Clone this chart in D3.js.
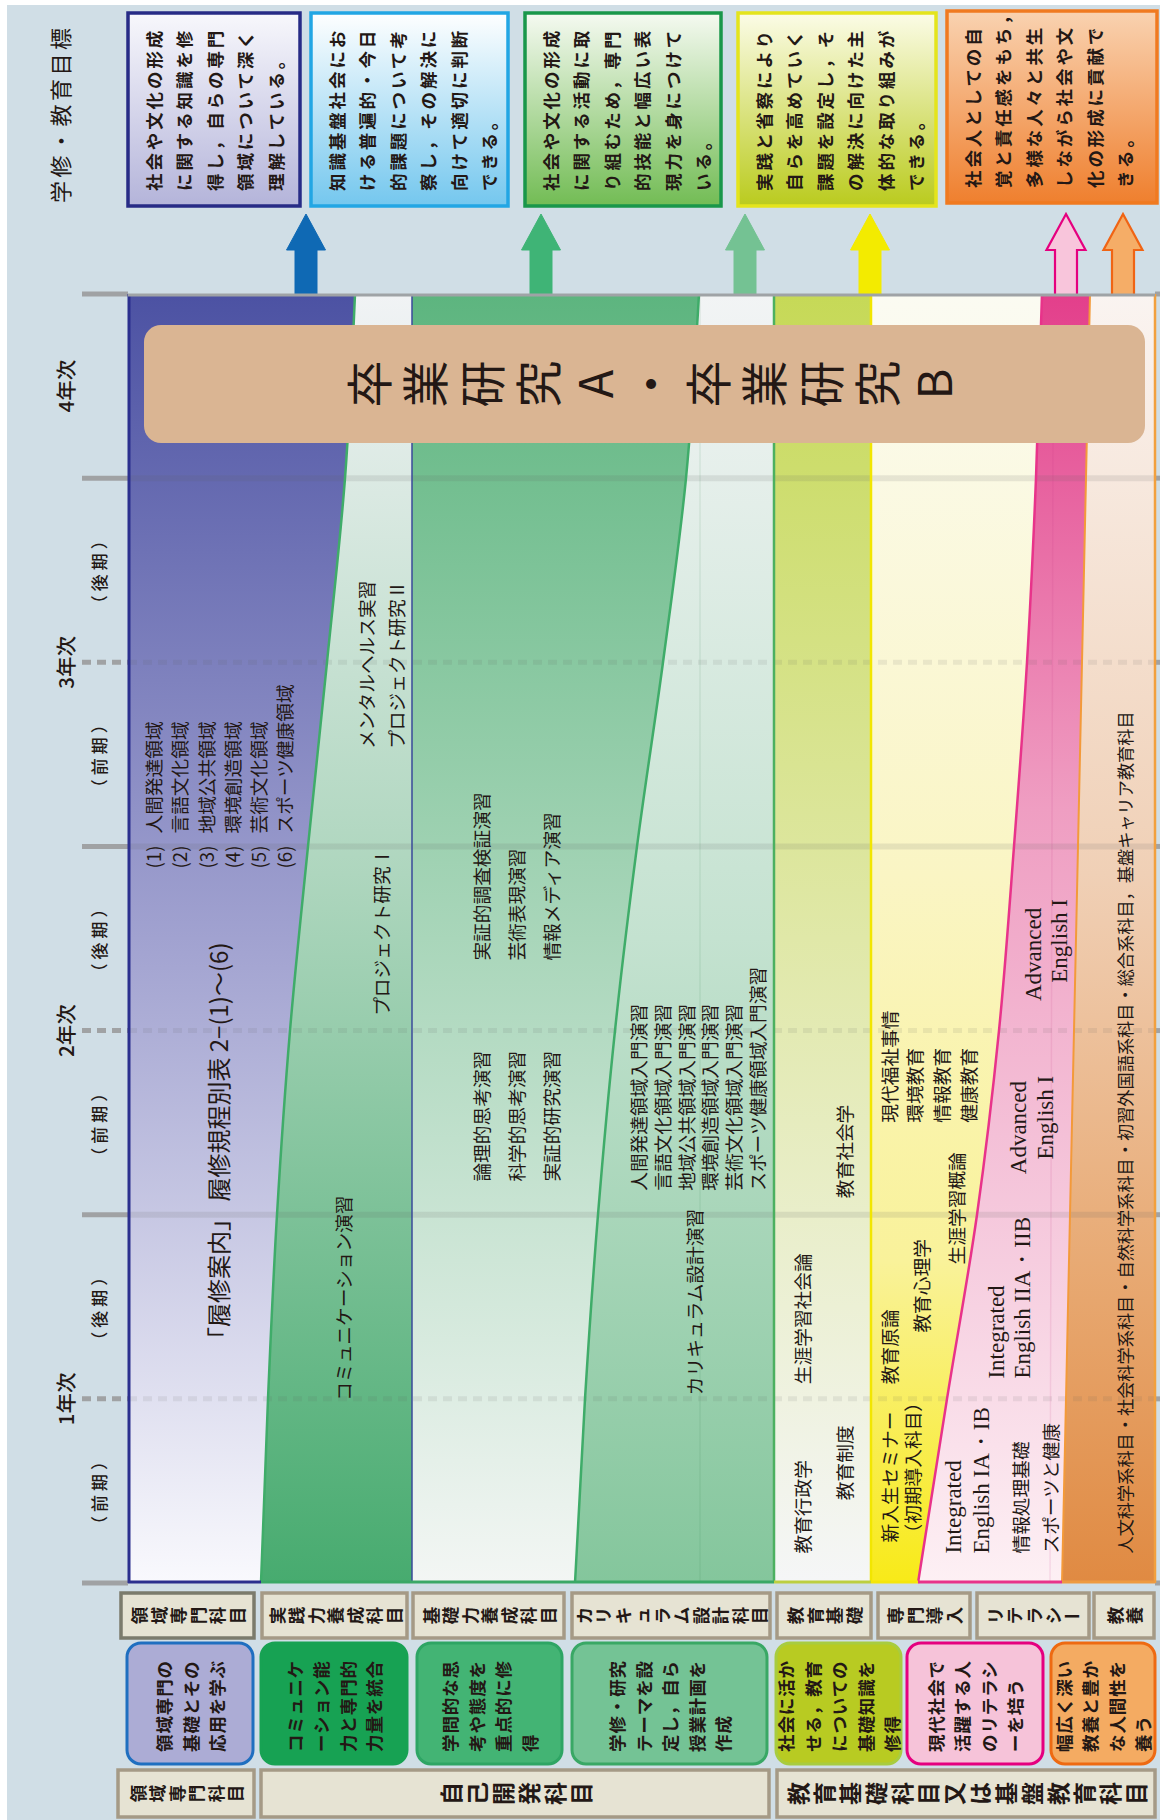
<!DOCTYPE html>
<html><head><meta charset="utf-8">
<script src="https://cdn.jsdelivr.net/npm/d3@7/dist/d3.min.js"></script>
<style>html,body{margin:0;padding:0;background:#fff}svg{display:block}</style>
</head><body>
<svg id="chart" width="1160" height="1820"></svg>
<script>
// ================= DATA =================
const goalTitle = "学修・教育目標";
const yearLabels = ["1年次", "2年次", "3年次", "4年次"];
const yearCenters = [1, 3, 5, 6.5];               // in semesters
const termLabels = ["（前期）", "（後期）", "（前期）", "（後期）", "（前期）", "（後期）"];
const termCenters = [0.5, 1.5, 2.5, 3.5, 4.5, 5.5];
const solidBounds = [0, 2, 4, 6, 7];
const dashedBounds = [1, 3, 5];

const goalTexts = [
  ["社会や文化の形成", "に関する知識を修", "得し，自らの専門", "領域について深く", "理解している。"],
  ["知識基盤社会にお", "ける普遍的・今日", "的課題について考", "察し，その解決に", "向けて適切に判断", "できる。"],
  ["社会や文化の形成", "に関する活動に取", "り組むため，専門", "的技能と幅広い表", "現力を身につけて", "いる。"],
  ["実践と省察により", "自らを高めていく", "課題を設定し，そ", "の解決に向けた主", "体的な取り組みが", "できる。"],
  ["社会人としての自", "覚と責任感をもち，", "多様な人々と共生", "しながら社会や文", "化の形成に貢献で", "きる。"]
];

const categories = ["領域専門科目", "実践力養成科目", "基礎力養成科目", "カリキュラム設計科目", "教育基礎", "専門導入", "リテラシー", "教養"];
const aimTexts = [
  ["領域専門の", "基礎とその", "応用を学ぶ"],
  ["コミュニケ", "ーション能", "力と専門的", "力量を統合"],
  ["学問的な思", "考や態度を", "重点的に修", "得"],
  ["学修・研究", "テーマを設", "定し，自ら", "授業計画を", "作成"],
  ["社会に活か", "せる，教育", "についての", "基礎知識を", "修得"],
  ["現代社会で", "活躍する人", "のリテラシ", "ーを培う"],
  ["幅広く深い", "教養と豊か", "な人間性を", "養う"]
];
const groups = ["領域専門科目", "自己開発科目", "教育基礎科目又は基盤教育科目"];
const bannerText = "卒業研究A・卒業研究B";

// band edges: x at semesters 0..7
const semSteps = [0, 1, 2, 3, 4, 5, 6, 7];
const edgeA = [261, 268, 277, 290, 308, 327, 345, 355];
const edgeB = [575, 585, 598, 615, 637, 663, 686, 699];
const edgeC = [918, 947, 977, 999, 1014, 1027, 1036, 1042];
const edgeD = [1062, 1066, 1070, 1074, 1078, 1082, 1086, 1090];

const domainNums = ["(1)", "(2)", "(3)", "(4)", "(5)", "(6)"];
const domains = ["人間発達領域", "言語文化領域", "地域公共領域", "環境創造領域", "芸術文化領域", "スポーツ健康領域"];
const domainStart = 3.88;

// [text, category index, lane, start semester]
const courses = [
  ["「履修案内」 履修規程別表 2−(1)〜(6)", 0, 6, 1.26],
  ["コミュニケーション演習", 1, 0, 0.99],
  ["プロジェクト研究Ⅰ", 1, 2, 3.08],
  ["メンタルヘルス実習", 1, 1, 4.53],
  ["プロジェクト研究Ⅱ", 1, 3, 4.53],
  ["論理的思考演習", 2, 0, 2.18],
  ["科学的思考演習", 2, 1, 2.18],
  ["実証的研究演習", 2, 2, 2.18],
  ["実証的調査検証演習", 2, 0, 3.38],
  ["芸術表現演習", 2, 1, 3.38],
  ["情報メディア演習", 2, 2, 3.38],
  ["カリキュラム設計演習", 3, 6, 1.02],
  ["人間発達領域入門演習", 3, 0, 2.13],
  ["言語文化領域入門演習", 3, 1, 2.13],
  ["地域公共領域入門演習", 3, 2, 2.13],
  ["環境創造領域入門演習", 3, 3, 2.13],
  ["芸術文化領域入門演習", 3, 4, 2.13],
  ["スポーツ健康領域入門演習", 3, 5, 2.13],
  ["教育行政学", 4, 0, 0.16],
  ["教育制度", 4, 1, 0.45],
  ["生涯学習社会論", 4, 0, 1.08],
  ["教育社会学", 4, 1, 2.09],
  ["新入生セミナー", 5, 0, 0.22],
  ["（初期導入科目）", 5, 1, 0.22],
  ["教育原論", 5, 0, 1.08],
  ["教育心理学", 5, 2, 1.36],
  ["生涯学習概論", 5, 3, 1.73],
  ["現代福祉事情", 5, 0, 2.50],
  ["環境教育", 5, 4, 2.50],
  ["情報教育", 5, 5, 2.50],
  ["健康教育", 5, 6, 2.50],
  ["情報処理基礎", 6, 2, 0.16],
  ["スポーツと健康", 6, 3, 0.16],
  ["人文科学系科目・社会科学系科目・自然科学系科目・初習外国語系科目・総合系科目，基盤キャリア教育科目", 7, 0, 0.16]
];
const englishCourses = [
  ["Integrated", 6, 0, 0.16], ["English IA・IB", 6, 1, 0.16],
  ["Integrated", 6, 4, 1.11], ["English IIA・IIB", 6, 5, 1.11],
  ["Advanced", 6, 6, 2.22], ["English I", 6, 7, 2.30],
  ["Advanced", 6, 8, 3.16], ["English I", 6, 9, 3.26]
];

// ================= LAYOUT =================
const W = 1160, H = 1820;
const JP = "'Noto Sans CJK JP','Noto Sans',sans-serif";
const SERIF = "'Liberation Serif','DejaVu Serif',serif";
const INK = "#231815";
const svg = d3.select("#chart");
const defs = svg.append("defs");

const sem = d3.scaleLinear().domain([0, 7]).range([1583, 294]);
const laneX = d3.scaleOrdinal().domain(d3.range(8)).range([
  [152, 178, 205, 231, 257, 283, 217],
  [342, 365, 380, 395],
  [480, 515, 550],
  [637, 661, 685, 708, 732, 756, 693],
  [801, 843],
  [888, 911, 920, 955, 913, 940, 967],
  [953, 981, 1019, 1049, 996, 1022, 1018, 1045, 1033, 1059],
  [1124]
]);
const goalBoxX = d3.scaleOrdinal().domain(d3.range(5)).range([[128, 300], [311, 508], [525, 721], [738, 936], [947, 1157]]);
const headBoxX = d3.scaleOrdinal().domain(d3.range(8)).range([[121, 254], [262, 407], [413, 564], [572, 770], [777, 871], [878, 970], [977, 1089], [1094, 1154]]);
const aimBoxX = d3.scaleOrdinal().domain(d3.range(7)).range([[127, 253], [261, 407], [417, 562], [572, 767], [776, 901], [907, 1043], [1051, 1155]]);
const groupBoxX = d3.scaleOrdinal().domain(d3.range(3)).range([[118, 254], [261, 769], [777, 1155]]);

function linGrad(id, stops, x1, y1, x2, y2) {
  const g = defs.append("linearGradient").attr("id", id).attr("gradientUnits", "userSpaceOnUse")
    .attr("x1", x1).attr("y1", y1).attr("x2", x2).attr("y2", y2);
  stops.forEach(s => g.append("stop").attr("offset", s[0]).attr("stop-color", s[1]));
  return `url(#${id})`;
}
function vText(g, str, x, y, size, opt = {}) {
  return g.append("text")
    .attr("transform", `translate(${x},${y}) rotate(-90)`)
    .attr("text-anchor", opt.anchor || "start")
    .attr("dominant-baseline", "central")
    .attr("font-family", opt.family || JP)
    .attr("font-size", size)
    .attr("font-weight", opt.weight || "normal")
    .attr("letter-spacing", opt.ls || 0)
    .attr("fill", opt.fill || INK)
    .text(str);
}
function charRow(g, str, cx, cy, pitch, size, weight) {
  const chars = Array.from(str);
  const n = chars.length;
  chars.forEach((ch, i) => {
    const x = cx + (i - (n - 1) / 2) * pitch;
    g.append("text")
      .attr("transform", `translate(${x},${cy})` + (ch === "ー" ? "" : " rotate(-90)"))
      .attr("text-anchor", "middle").attr("dominant-baseline", "central")
      .attr("font-family", JP).attr("font-size", size).attr("font-weight", weight || "normal")
      .attr("fill", INK).text(ch);
  });
}

// background
svg.append("rect").attr("width", W).attr("height", H).attr("fill", "#ffffff");
svg.append("rect").attr("x", 7).attr("y", 5).attr("width", W - 7).attr("height", H - 5).attr("fill", "#d0dee6");

// ---------- top title ----------
vText(svg, goalTitle, 59, 203, 22, { ls: 3.5 });

// ---------- goal boxes ----------
const goalStyles = [
  ["#272b86", "#f8f8fc", "#b4b4da"],
  ["#22a6e4", "#ffffff", "#74c7ee"],
  ["#19974a", "#f6faf2", "#72bc54"],
  ["#e4e41c", "#fcfce8", "#bacb1e"],
  ["#f07a20", "#f9d2b0", "#ef7e2c"]
];
const gGoals = svg.append("g");
goalTexts.forEach((lines, i) => {
  const [x0, x1] = goalBoxX(i);
  const st = goalStyles[i];
  const fill = linGrad("gg" + i, [[0, st[1]], [1, st[2]]], 0, 12, 0, 206);
  gGoals.append("rect").attr("x", x0).attr("y", i === 4 ? 11 : 13).attr("width", x1 - x0)
    .attr("height", i === 4 ? 192 : 193).attr("fill", fill).attr("stroke", st[0]).attr("stroke-width", 3.5);
  lines.forEach((ln, j) => vText(gGoals, ln, x0 + 25 + j * 30.5, i === 4 ? 188 : 191, 17.5, { weight: "bold", ls: 2.9 }));
});

// ---------- grid lines ----------
const gGrid = svg.append("g");
solidBounds.forEach(s => {
  gGrid.append("line").attr("x1", 82).attr("x2", 128).attr("y1", sem(s)).attr("y2", sem(s))
    .attr("stroke", "#a0a2a4").attr("stroke-width", 5);
  gGrid.append("line").attr("x1", 1155).attr("x2", W).attr("y1", sem(s)).attr("y2", sem(s))
    .attr("stroke", "#a0a2a4").attr("stroke-width", 5);
});
dashedBounds.forEach(s => {
  gGrid.append("line").attr("x1", 82).attr("x2", 128).attr("y1", sem(s)).attr("y2", sem(s))
    .attr("stroke", "#a0a2a4").attr("stroke-width", 5).attr("stroke-dasharray", "9,6");
  gGrid.append("line").attr("x1", 1155).attr("x2", W).attr("y1", sem(s)).attr("y2", sem(s))
    .attr("stroke", "#a0a2a4").attr("stroke-width", 5).attr("stroke-dasharray", "9,6");
});
// year and term labels
yearLabels.forEach((t, i) => vText(svg, t, 65, sem(yearCenters[i]), 20.5, { anchor: "middle", weight: 500 }));
termLabels.forEach((t, i) => vText(svg, t, 98, sem(termCenters[i]), 17, { anchor: "middle", weight: 500, ls: 4 }));

// ---------- arrows ----------
const arrowCenters = [306, 541, 745, 870, 1066, 1123];
const arrowStyles = [["#0f69b4", "#0f69b4"], ["#3fb476", "#3fb476"], ["#74c293", "#74c293"], ["#f3eb00", "#f3eb00"], ["#f8c5db", "#e5007f"], ["#f5ad67", "#f06414"]];
const gArrows = svg.append("g");
arrowCenters.forEach((cx, i) => {
  const p = d3.path();
  p.moveTo(cx, 214); p.lineTo(cx + 19.5, 250); p.lineTo(cx + 11, 250); p.lineTo(cx + 11, 322);
  p.lineTo(cx - 11, 322); p.lineTo(cx - 11, 250); p.lineTo(cx - 19.5, 250); p.closePath();
  gArrows.append("path").attr("d", p.toString()).attr("fill", arrowStyles[i][0])
    .attr("stroke", arrowStyles[i][1]).attr("stroke-width", i >= 4 ? 2.2 : 1);
});

// ---------- column bands ----------
const edgeOf = (arr) => (s) => arr[s];
const constant = (v) => () => v;
const bands = [
  { l: constant(128), r: edgeOf(edgeA), stops: [[0, "#4c52a3"], [0.5, "#a1a2d0"], [1, "#f9f9fd"]] },
  { l: edgeOf(edgeA), r: constant(412), stops: [[0, "#f1f3f5"], [0.45, "#aed6be"], [1, "#47ab6f"]] },
  { l: constant(412), r: edgeOf(edgeB), stops: [[0, "#5db57f"], [0.5, "#a9d6ba"], [1, "#f3f6f4"]] },
  { l: edgeOf(edgeB), r: constant(774), stops: [[0, "#f2f4f5"], [0.5, "#c4e2d0"], [1, "#84c69c"]] },
  { l: constant(774), r: constant(871), stops: [[0, "#c6d957"], [0.5, "#e0e8a8"], [1, "#f5f6f7"]] },
  { l: constant(871), r: edgeOf(edgeC), stops: [[0, "#fbfbf2"], [0.45, "#faf5c4"], [0.75, "#f9f29a"], [1, "#f8ea18"]] },
  { l: edgeOf(edgeC), r: edgeOf(edgeD), stops: [[0, "#e33f8b"], [0.4, "#ef9ec2"], [0.75, "#f6cddf"], [1, "#fdf0f4"]] },
  { l: edgeOf(edgeD), r: constant(1155), stops: [[0, "#faf4f1"], [0.45, "#f0d0b6"], [0.75, "#e8aa74"], [1, "#e08a42"]] }
];
const gBands = svg.append("g");
bands.forEach((b, i) => {
  const area = d3.area().y(s => sem(s)).x0(s => b.l(s)).x1(s => b.r(s)).curve(d3.curveMonotoneY);
  gBands.append("path").attr("d", area(semSteps))
    .attr("fill", linGrad("bg" + i, b.stops, 0, 294, 0, 1583));
});
// in-band grid overlays
solidBounds.slice(1, 4).forEach(s => gBands.append("line").attr("x1", 128).attr("x2", 1155)
  .attr("y1", sem(s)).attr("y2", sem(s)).attr("stroke", "rgba(90,90,90,0.13)").attr("stroke-width", 6));
dashedBounds.forEach(s => gBands.append("line").attr("x1", 128).attr("x2", 1155)
  .attr("y1", sem(s)).attr("y2", sem(s)).attr("stroke", "rgba(90,90,90,0.10)").attr("stroke-width", 5)
  .attr("stroke-dasharray", "9,6"));
// faint vertical lines
gBands.append("line").attr("x1", 700).attr("x2", 700).attr("y1", 294).attr("y2", 1583).attr("stroke", "rgba(40,120,70,0.10)").attr("stroke-width", 1.5);
gBands.append("line").attr("x1", 1053).attr("x2", 1050).attr("y1", 443).attr("y2", 1583).attr("stroke", "rgba(200,60,130,0.12)").attr("stroke-width", 1.5);
// edge strokes
const edgeLine = (arr) => d3.line().y(s => sem(s)).x(s => arr[s]).curve(d3.curveMonotoneY)(semSteps);
gBands.append("path").attr("d", edgeLine(edgeA)).attr("fill", "none").attr("stroke", "#3fac69").attr("stroke-width", 2.5);
gBands.append("path").attr("d", edgeLine(edgeB)).attr("fill", "none").attr("stroke", "#3fac69").attr("stroke-width", 2.5);
gBands.append("path").attr("d", edgeLine(edgeC)).attr("fill", "none").attr("stroke", "#e8338a").attr("stroke-width", 2.5);
gBands.append("path").attr("d", edgeLine(edgeD)).attr("fill", "none").attr("stroke", "#f39a3a").attr("stroke-width", 2);
const vline = (x, c, w) => gBands.append("line").attr("x1", x).attr("x2", x).attr("y1", 294).attr("y2", 1583).attr("stroke", c).attr("stroke-width", w);
vline(129, "#2b2f8e", 3);
vline(412, "#3a4a9a", 1.5);
vline(774, "#4cb060", 2.5);
vline(871, "#f2e600", 2.5);
vline(1155, "#f2a03e", 2.5);
// top & bottom borders
gBands.append("line").attr("x1", 128).attr("x2", 1155).attr("y1", 295).attr("y2", 295).attr("stroke", "#9fa3a6").attr("stroke-width", 3);
const bottomSegs = [[128, edgeA[0], "#2b2f8e"], [edgeA[0], 774, "#3aa866"], [774, 871, "#bccf40"], [871, edgeC[0], "#f5e60a"], [edgeC[0], edgeD[0], "#e8338a"], [edgeD[0], 1155, "#ee9a40"]];
bottomSegs.forEach(sg => gBands.append("line").attr("x1", sg[0]).attr("x2", sg[1]).attr("y1", 1582).attr("y2", 1582).attr("stroke", sg[2]).attr("stroke-width", 3));

// ---------- banner ----------
svg.append("rect").attr("x", 144).attr("y", 325).attr("width", 1001).attr("height", 118).attr("rx", 17)
  .attr("fill", "#dab593");
charRow(svg, bannerText, 648.5, 384, 56.5, 47, "normal");

// ---------- course texts ----------
const gCourses = svg.append("g");
domains.forEach((d, i) => {
  const t = gCourses.append("text")
    .attr("transform", `translate(${laneX(0)[i]},${sem(domainStart)}) rotate(-90)`)
    .attr("dominant-baseline", "central").attr("font-family", JP).attr("font-size", 18.7).attr("fill", INK);
  t.append("tspan").text(domainNums[i]);
  t.append("tspan").attr("dx", 12).text(d);
});
courses.forEach(c => {
  const [txt, cat, lane, start] = c;
  let size = 18.7;
  if (cat === 0 && lane === 6) size = 24;
  if (cat === 7) size = 17.2;
  vText(gCourses, txt, laneX(cat)[lane], sem(start), size);
});
englishCourses.forEach(c => {
  const [txt, cat, lane, start] = c;
  vText(gCourses, txt, laneX(cat)[lane], sem(start), 23, { family: SERIF });
});

// ---------- bottom category rows ----------
const gBottom = svg.append("g");
categories.forEach((c, i) => {
  const [x0, x1] = headBoxX(i);
  gBottom.append("rect").attr("x", x0).attr("y", 1593).attr("width", x1 - x0).attr("height", 45)
    .attr("fill", "#e6e3d3").attr("stroke", i === 0 ? "#7b7b6c" : "#a59a86").attr("stroke-width", 3.5);
  charRow(gBottom, c, (x0 + x1) / 2, 1615.5, 19.5, 17.5, "bold");
});
const aimStyles = [["#acacd5", "#1f6fc0"], ["#17a253", "#17a253"], ["#43b474", "#2ea564"], ["#74c395", "#39a865"], ["#b8cb22", "#a8cc40"], ["#f6c3d9", "#e5007f"], ["#f4ab62", "#ee6a12"]];
aimTexts.forEach((lines, i) => {
  const [x0, x1] = aimBoxX(i);
  gBottom.append("rect").attr("x", x0).attr("y", 1643).attr("width", x1 - x0).attr("height", 121).attr("rx", 14)
    .attr("fill", aimStyles[i][0]).attr("stroke", aimStyles[i][1]).attr("stroke-width", 3);
  const cx = (x0 + x1) / 2, n = lines.length, sp = 26.5;
  lines.forEach((ln, j) => vText(gBottom, ln, cx + (j - (n - 1) / 2) * sp, 1752, 17.5, { weight: "bold", ls: 0.9 }));
});
groups.forEach((g, i) => {
  const [x0, x1] = groupBoxX(i);
  gBottom.append("rect").attr("x", x0).attr("y", 1770).attr("width", x1 - x0).attr("height", 47)
    .attr("fill", "#e6e3d3").attr("stroke", "#a59a86").attr("stroke-width", 3.5);
  if (i === 0) charRow(gBottom, g, (x0 + x1) / 2, 1793.5, 19.5, 17.5, "bold");
  else charRow(gBottom, g, (x0 + x1) / 2, 1793.5, 26, 23, "bold");
});
</script>
</body></html>
